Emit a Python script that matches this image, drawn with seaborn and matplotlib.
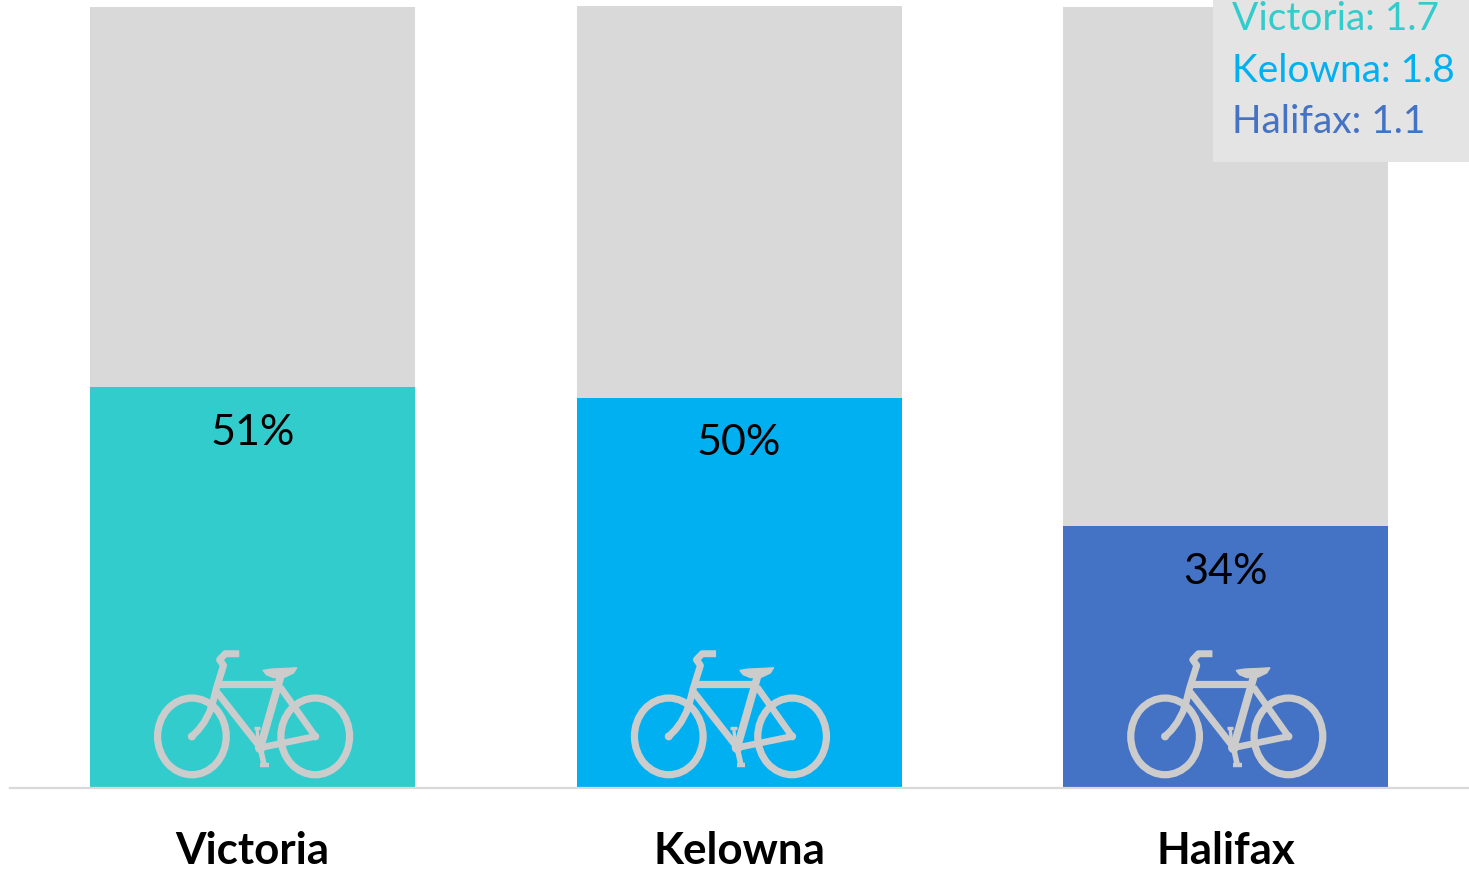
import matplotlib
matplotlib.use("Agg")
import matplotlib.pyplot as plt
import pandas as pd
import seaborn as sns
from matplotlib.patches import Ellipse, Polygon, Rectangle, Circle
from matplotlib.lines import Line2D
from matplotlib.transforms import Affine2D, ScaledTranslation

cities = ["Victoria", "Kelowna", "Halifax"]
shares = [51.4, 50.0, 33.6]
totals = [100.05, 100.2, 100.05]
share_labels = ["51%", "50%", "34%"]
bikes_per_household = ["1.7", "1.8", "1.1"]
colors = ["#33CCCC", "#00B0F0", "#4472C4"]
icon_centres = [0.0015, 0.9815, 2.0015]

W, H = 1469, 869
sns.set_theme(style="white")
plt.rcParams["font.family"] = ["Lato", "DejaVu Sans"]

fig = plt.figure(figsize=(W / 100, H / 100), dpi=100, facecolor="white")
ax = fig.add_axes([9.2 / W, 80.6 / H, 1459.8 / W, 788.4 / H])
df = pd.DataFrame({"city": cities, "share": shares, "total": totals})

sns.barplot(data=df, x="city", y="total", color="#D9D9D9", saturation=1,
            width=0.668, linewidth=0, ax=ax)
sns.barplot(data=df, x="city", y="share", hue="city", palette=colors,
            saturation=1, width=0.668, linewidth=0, legend=False, ax=ax)
ax.set_xlim(-0.5, 2.5)
ax.set_ylim(0, 788.4 / 7.81)
ax.set_xlabel("")
ax.set_ylabel("")
ax.set_yticks([])
ax.tick_params(axis="x", length=0, pad=30.5)
for lab in ax.get_xticklabels():
    lab.set_fontsize(31.6)
    lab.set_fontweight("bold")
    lab.set_color("black")
for s in ["top", "left", "right"]:
    ax.spines[s].set_visible(False)
ax.spines["bottom"].set_color("#D9D9D9")
ax.spines["bottom"].set_linewidth(1.6)
ax.spines["bottom"].set_bounds(-0.498, 2.5)
ax.patch.set_alpha(0)

for container, lab in zip(ax.containers[1:], share_labels):
    ax.bar_label(container, labels=[lab], label_type="edge", padding=-46.5,
                 fontsize=31, color="black")


def bicycle(centre):
    """Bicycle icon, drawn in pixels around its base point on the baseline."""
    tr = (Affine2D().scale(1 / 3, -1 / 3)
          + ScaledTranslation(centre, 0, ax.transData))
    grey = "#CCCCCC"
    for cx in (185 - 369, 555 - 369):
        ax.add_patch(Ellipse((cx, 318 - 474), 206, 230, fc="none", ec=grey,
                             lw=5.2, transform=tr, clip_on=False, zorder=5))
    segs = [
        [(327, 70), (285, 70), (268, 88), (280, 105), (258, 175), (248, 215),
         (238, 245), (222, 275), (205, 298), (185, 318)],
        [(262, 160), (450, 160)],
        [(452, 135), (390, 352)],
        [(260, 185), (388, 348)],
        [(450, 170), (555, 318)],
        [(555, 318), (390, 352)],
        [(390, 352), (402, 405)],
        [(390, 405), (415, 405)],
        [(370, 292), (390, 292)],
        [(380, 292), (385, 345)],
    ]
    widths = [5.0, 5.2, 5.6, 5.0, 4.8, 4.8, 4.0, 3.2, 2.4, 2.4]
    for pts, lw in zip(segs, widths):
        xs = [p[0] - 369 for p in pts]
        ys = [p[1] - 474 for p in pts]
        ax.add_line(Line2D(xs, ys, color=grey, lw=lw, transform=tr,
                           solid_capstyle="butt", solid_joinstyle="round",
                           zorder=5))
    saddle = [(398, 120), (420, 116), (500, 112), (490, 128), (465, 140), (430, 142), (408, 133)]
    ax.add_patch(Polygon([(x - 369, y - 474) for x, y in saddle], fc=grey, ec=grey,
                         lw=0.8, transform=tr, zorder=5))
    for x, y, r in [(185, 318, 12), (555, 318, 12), (390, 352, 16)]:
        ax.add_patch(Circle((x - 369, y - 474), r, fc=grey, ec="none",
                            transform=tr, zorder=5))


for c in icon_centres:
    bicycle(c)

# Panel of bikes per household
fig.add_artist(Rectangle((1213 / W, 1 - 162 / H), 256 / W, 162 / H,
                         transform=fig.transFigure, fc="#E4E4E4", ec="none",
                         zorder=6))
for city, val, col, base in zip(cities, bikes_per_household, colors, (30, 82, 133)):
    fig.text(1232.5 / W, 1 - base / H, f"{city}: {val}", color=col, fontsize=28,
             ha="left", va="baseline", zorder=7)

fig.savefig("out.png", dpi=100)
